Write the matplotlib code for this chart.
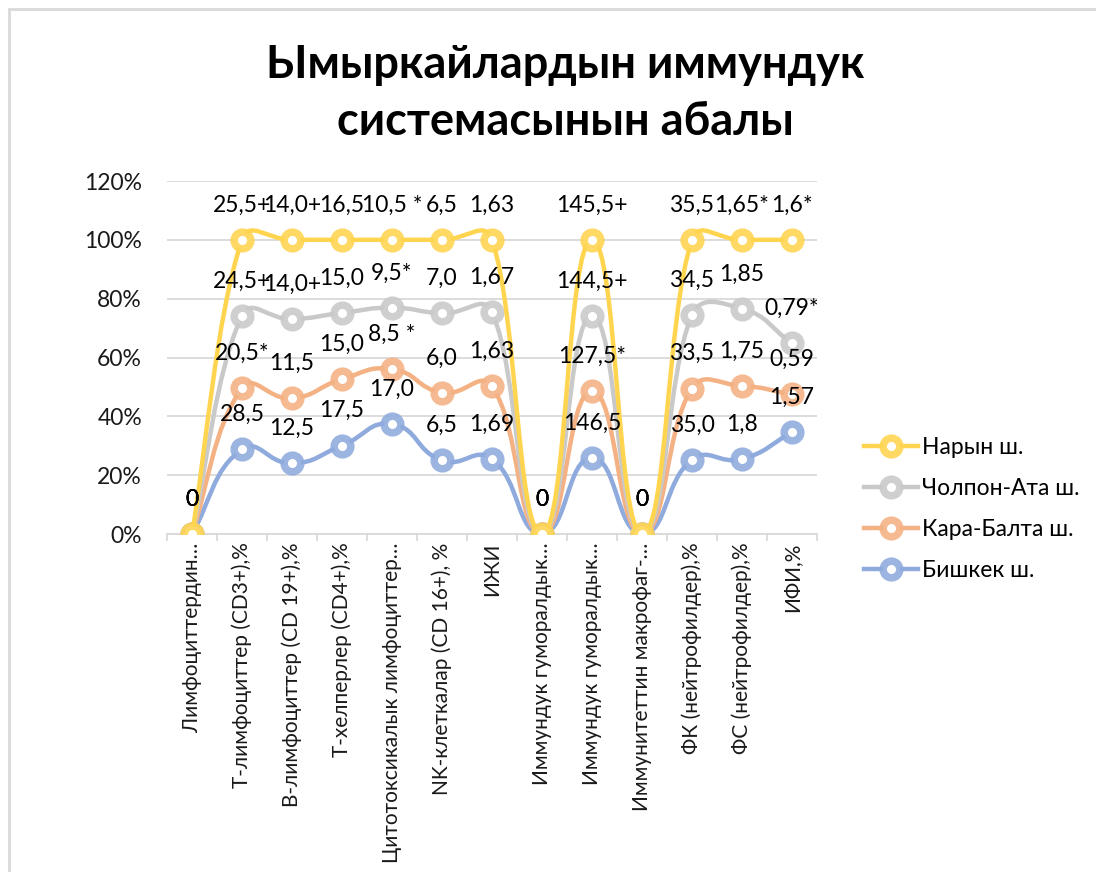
import numpy as np
import matplotlib
matplotlib.use('Agg')
import matplotlib.pyplot as plt
from matplotlib.path import Path
from matplotlib.patches import PathPatch, Rectangle
from matplotlib.lines import Line2D

plt.rcParams['font.family'] = ['Lato', 'DejaVu Sans']

# категориялар (Excel кыскарткан аттар)
cats = ['Лимфоциттердин…', 'Т-лимфоциттер (CD3+),%', 'В-лимфоциттер (CD 19+),%',
        'Т-хелперлер (CD4+),%', 'Цитотоксикалык лимфоциттер…', 'NK-клеткалар (CD 16+), %',
        'ИЖИ', 'Иммундук гуморалдык…', 'Иммундук гуморалдык…', 'Иммунитеттин макрофаг-…',
        'ФК (нейтрофилдер),%', 'ФС (нейтрофилдер),%', 'ИФИ,%']

series = ['Бишкек ш.', 'Кара-Балта ш.', 'Чолпон-Ата ш.', 'Нарын ш.']

bishkek = [0, 28.5, 12.5, 20.0, 17.0, 6.5, 1.69, 0, 146.5, 0, 35.0, 1.8, 1.57]
kara = [0, 20.5, 11.5, 15.0, 8.5, 6.0, 1.63, 0, 127.5, 0, 33.5, 1.75, 0.59]
cholpon = [0, 24.5, 14.0, 15.0, 9.5, 7.0, 1.67, 0, 144.5, 0, 34.5, 1.85, 0.79]
naryn = [0, 25.5, 14.0, 16.5, 10.5, 6.5, 1.63, 0, 145.5, 0, 35.5, 1.65, 1.6]

bishkek_lbl = ['0', '28,5', '12,5', '17,5', '17,0', '6,5', '1,69', '0', '146,5', '0', '35,0', '1,8', '1,57']
kara_lbl = ['0', '20,5*', '11,5', '15,0', '8,5 *', '6,0', '1,63', '0', '127,5*', '0', '33,5', '1,75', '0,59']
cholpon_lbl = ['0', '24,5+', '14,0+', '15,0', '9,5*', '7,0', '1,67', '0', '144,5+', '0', '34,5', '1,85', '0,79*']
naryn_lbl = ['0', '25,5+', '14,0+', '16,5', '10,5 *', '6,5', '1,63', '0', '145,5+', '0', '35,5', '1,65*', '1,6*']

colors = ['#8FAADC', '#F4B183', '#C9C9C9', '#FFD44F']

vals = np.array([bishkek, kara, cholpon, naryn], dtype=float)
lbls = [bishkek_lbl, kara_lbl, cholpon_lbl, naryn_lbl]

# 100% накопленный
tot = vals.sum(axis=0)
cum = np.cumsum(vals, axis=0)
pct = np.where(tot > 0, cum / np.where(tot > 0, tot, 1) * 100, 0)

W, H = 1096, 872
fig = plt.figure(figsize=(W / 100, H / 100), dpi=100)
ax = fig.add_axes([167 / W, 1 - 534 / H, 650 / W, 353 / H])
x = np.arange(len(cats))
ax.set_xlim(-0.5, len(cats) - 0.5)
ax.set_ylim(0, 120)


def ctrl(q, d_seg, d_other, t):
    # касательная сыяктуу, узундугу чектелген
    v = q * t * d_seg / (d_seg + d_other)
    L = np.hypot(*v)
    cap = 0.22 * d_seg + 15
    if L > cap:
        v = v * cap / L
    return v


def smooth(xs, ys, t=0.5):
    tr = ax.transData
    p = tr.transform(np.column_stack([xs, ys]))
    n = len(p)
    verts = [p[0]]
    codes = [Path.MOVETO]
    for i in range(n - 1):
        p0 = p[i - 1] if i > 0 else p[i]
        p1 = p[i]
        p2 = p[i + 1]
        p3 = p[i + 2] if i + 2 < n else p[i + 1]
        d01 = np.hypot(*(p1 - p0))
        d12 = np.hypot(*(p2 - p1))
        d23 = np.hypot(*(p3 - p2))
        c1 = p1 + ctrl(p2 - p0, d12, d01, t) if d12 > 0 else p1
        c2 = p2 - ctrl(p3 - p1, d12, d23, t) if d12 > 0 else p2
        verts += [c1, c2, p2]
        codes += [Path.CURVE4] * 3
    verts = tr.inverted().transform(np.array(verts))
    return Path(verts, codes)


for k in range(4):
    c = colors[k]
    ax.add_patch(PathPatch(smooth(x, pct[k]), fill=False, edgecolor=c, lw=3.2, zorder=3 + 2 * k,
                           capstyle='round'))
    ax.plot(x, pct[k], 'o', ms=12, mew=5.4, mfc='white',
            mec=matplotlib.colors.to_rgba(c, 0.88), zorder=4 + 2 * k)
    for i in range(len(cats)):
        ax.annotate(lbls[k][i], (x[i], pct[k][i]), xytext=(0, 25), textcoords='offset points',
                    ha='center', va='center', fontsize=16.5, color='black', zorder=20)

ax.set_yticks(np.arange(0, 121, 20))
ax.set_yticklabels([f'{v}%' for v in range(0, 121, 20)])
ax.grid(axis='y', color='#D9D9D9', lw=1.3)
ax.set_axisbelow(True)
for s in ['left', 'right', 'top']:
    ax.spines[s].set_visible(False)
ax.spines['bottom'].set_color('#D9D9D9')
ax.spines['bottom'].set_linewidth(1.3)
ax.tick_params(axis='y', length=0, pad=18, labelsize=16.5, labelcolor='#1a1a1a')
ax.set_xticks(x)
ax.set_xticklabels(cats, rotation=90, fontsize=15, color='#1a1a1a')
ax.tick_params(axis='x', which='major', length=0, pad=6)
ax.set_xticks(np.arange(-0.5, len(cats), 1), minor=True)
ax.tick_params(axis='x', which='minor', length=5, color='#D9D9D9', width=1.3)

fig.text(565 / W, 1 - 65 / H, 'Ымыркайлардын иммундук', ha='center', va='center',
         fontsize=32.5, fontweight='bold')
fig.text(565 / W, 1 - 122 / H, 'системасынын абалы', ha='center', va='center',
         fontsize=32.5, fontweight='bold')

handles = [Line2D([0], [0], color=colors[k], lw=3.2, marker='o', ms=12, mew=5.4, mfc='white',
                  mec=matplotlib.colors.to_rgba(colors[k], 0.88)) for k in range(3, -1, -1)]
fig.legend(handles, series[::-1], loc='upper left', bbox_to_anchor=(843 / W, 1 - 416 / H),
           frameon=False, fontsize=16.5, handlelength=2.36, handletextpad=0.17,
           labelspacing=0.88)

fig.patches.append(Rectangle((8.5 / W, -0.05), 1.1, 1 - 9.5 / H + 0.05, transform=fig.transFigure,
                             fill=False, edgecolor='#D9D9D9', lw=2))

fig.savefig('out.png', dpi=100)
